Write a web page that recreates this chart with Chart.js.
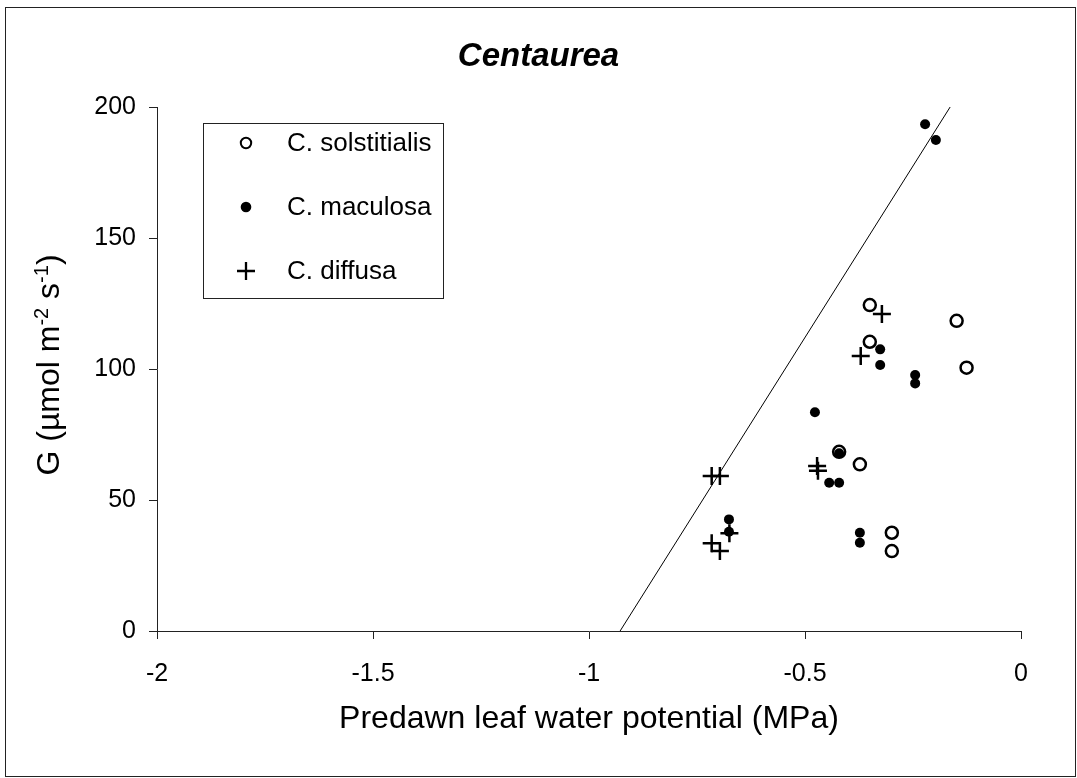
<!DOCTYPE html>
<html>
<head>
<meta charset="utf-8">
<script src="https://cdn.jsdelivr.net/npm/chart.js@4.4.1/dist/chart.umd.min.js"></script>
<style>
  html, body { margin: 0; padding: 0; background: #fff; }
  #wrap { width: 1077px; height: 778px; }
</style>
</head>
<body>
<div id="wrap"><canvas id="c" width="1077" height="778"></canvas></div>
<script>
// ---- Data ----
const chartTitle = "Centaurea";
const xAxisTitle = "Predawn leaf water potential (MPa)";
const seriesNames = ["C. solstitialis", "C. maculosa", "C. diffusa"];

const solstitialisX = [-0.350, -0.350, -0.149, -0.126, -0.421, -0.373, -0.299, -0.299];
const solstitialisY = [124.4, 110.4, 118.4, 100.5, 68.4, 63.6, 37.5, 30.5];

const maculosaX = [-0.222, -0.197, -0.326, -0.326, -0.245, -0.245, -0.477, -0.421, -0.444, -0.421, -0.676, -0.676, -0.373, -0.373];
const maculosaY = [193.4, 187.4, 107.5, 101.5, 97.7, 94.5, 83.5, 67.8, 56.6, 56.6, 42.6, 37.9, 37.5, 33.7];

const diffusaX = [-0.322, -0.371, -0.472, -0.470, -0.716, -0.697, -0.675, -0.716, -0.697];
const diffusaY = [121.0, 105.0, 63.0, 61.2, 59.2, 59.2, 37.3, 33.5, 30.5];

const fitLineX = [-0.928, -0.164];
const fitLineY = [0, 200];

const xTicks = [-2, -1.5, -1, -0.5, 0];
const yTicks = [0, 50, 100, 150, 200];

const FONT = '"Liberation Sans", Arial, Helvetica, sans-serif';

function pts(xs, ys) { return xs.map((x, i) => ({ x: x, y: ys[i] })); }

// ---- Plugins ----
const frame = {
  id: 'frame',
  beforeDraw(chart) {
    const ctx = chart.ctx;
    ctx.save();
    ctx.fillStyle = '#fff';
    ctx.fillRect(0, 0, chart.width, chart.height);
    ctx.strokeStyle = '#222';
    ctx.lineWidth = 1;
    ctx.strokeRect(5.5, 7.5, 1070, 769);
    ctx.restore();
  },
  afterDraw(chart) {
    const ctx = chart.ctx;
    const ca = chart.chartArea;
    const cx = (ca.left + ca.right) / 2;
    ctx.save();
    ctx.fillStyle = '#000';
    // Title (centred on the whole chart)
    ctx.font = 'italic bold 33px ' + FONT;
    ctx.textAlign = 'center';
    ctx.textBaseline = 'alphabetic';
    ctx.fillText(chartTitle, chart.width / 2, 66);
    // X axis title
    ctx.font = '32px ' + FONT;
    ctx.fillText(xAxisTitle, cx, 728);
    // Y axis title with superscripts
    const cy = (ca.top + ca.bottom) / 2 - 4;
    const parts = [
      { t: 'G (\u00B5mol m', sup: false },
      { t: '-2', sup: true },
      { t: ' s', sup: false },
      { t: '-1', sup: true },
      { t: ')', sup: false }
    ];
    const mainFont = '32px ' + FONT;
    const supFont = '20px ' + FONT;
    let total = 0;
    parts.forEach(p => { ctx.font = p.sup ? supFont : mainFont; p.w = ctx.measureText(p.t).width; total += p.w; });
    ctx.translate(59, cy);
    ctx.rotate(-Math.PI / 2);
    ctx.textAlign = 'left';
    let x = -total / 2;
    parts.forEach(p => {
      ctx.font = p.sup ? supFont : mainFont;
      ctx.fillText(p.t, x, p.sup ? -11 : 0);
      x += p.w;
    });
    ctx.restore();

    // Legend
    ctx.save();
    ctx.font = '26px ' + FONT;
    const textX = 287;
    let maxW = 0;
    chart.data.datasets.slice(0, 3).forEach(ds => { maxW = Math.max(maxW, ctx.measureText(ds.label).width); });
    const boxL = 203, boxT = 123, boxB = 298;
    const boxR = Math.round(textX + maxW + 12);
    ctx.strokeStyle = '#222';
    ctx.lineWidth = 1;
    ctx.strokeRect(boxL + 0.5, boxT + 0.5, boxR - boxL, boxB - boxT);
    ctx.fillStyle = '#000';
    ctx.strokeStyle = '#000';
    ctx.textAlign = 'left';
    ctx.textBaseline = 'middle';
    const rows = [143, 207, 271];
    const mx = 246;
    chart.data.datasets.slice(0, 3).forEach((ds, i) => {
      const y = rows[i];
      ctx.beginPath();
      if (i === 0) {
        ctx.lineWidth = 2;
        ctx.arc(mx, y, 5.2, 0, Math.PI * 2);
        ctx.stroke();
      } else if (i === 1) {
        ctx.arc(mx, y, 5.3, 0, Math.PI * 2);
        ctx.fill();
      } else {
        ctx.lineWidth = 2.3;
        ctx.moveTo(mx - 9, y); ctx.lineTo(mx + 9, y);
        ctx.moveTo(mx, y - 9); ctx.lineTo(mx, y + 9);
        ctx.stroke();
      }
      ctx.fillText(ds.label, textX, y + 1);
    });
    ctx.restore();
  }
};

new Chart(document.getElementById('c'), {
  type: 'scatter',
  data: {
    datasets: [
      {
        label: seriesNames[0],
        data: pts(solstitialisX, solstitialisY),
        pointStyle: 'circle',
        pointRadius: 6,
        pointBorderWidth: 2.5,
        borderColor: '#000',
        backgroundColor: 'rgba(0,0,0,0)'
      },
      {
        label: seriesNames[1],
        data: pts(maculosaX, maculosaY),
        pointStyle: 'circle',
        pointRadius: 5,
        pointBorderWidth: 0,
        borderColor: '#000',
        backgroundColor: '#000'
      },
      {
        label: seriesNames[2],
        data: pts(diffusaX, diffusaY),
        pointStyle: 'cross',
        pointRadius: 9,
        pointBorderWidth: 2.5,
        borderColor: '#000',
        backgroundColor: '#000'
      },
      {
        label: 'fit',
        type: 'line',
        data: pts(fitLineX, fitLineY),
        showLine: true,
        borderColor: '#000',
        borderWidth: 1,
        pointRadius: 0,
        fill: false
      }
    ]
  },
  options: {
    responsive: false,
    animation: false,
    devicePixelRatio: 1,
    layout: { padding: { left: 0, right: 56, top: 107, bottom: 0 } },
    plugins: {
      legend: { display: false },
      title: { display: false },
      tooltip: { enabled: false }
    },
    scales: {
      x: {
        type: 'linear',
        min: -2, max: 0,
        afterFit(scale) { scale.height = 147; },
        afterBuildTicks(scale) { scale.ticks = xTicks.map(v => ({ value: v })); },
        ticks: {
          font: { family: FONT, size: 25 },
          color: '#000',
          padding: 20,
          maxRotation: 0,
          callback: v => String(v)
        },
        grid: { drawOnChartArea: false, drawTicks: true, tickLength: 8, color: '#222', lineWidth: 1 },
        border: { display: true, color: '#222', width: 1 }
      },
      y: {
        type: 'linear',
        min: 0, max: 200,
        afterFit(scale) { scale.width = 157; },
        afterBuildTicks(scale) { scale.ticks = yTicks.map(v => ({ value: v })); },
        ticks: {
          font: { family: FONT, size: 25 },
          color: '#000',
          padding: 13,
          callback: v => String(v)
        },
        grid: { drawOnChartArea: false, drawTicks: true, tickLength: 8, color: '#222', lineWidth: 1 },
        border: { display: true, color: '#222', width: 1 }
      }
    }
  },
  plugins: [frame]
});
</script>
</body>
</html>
